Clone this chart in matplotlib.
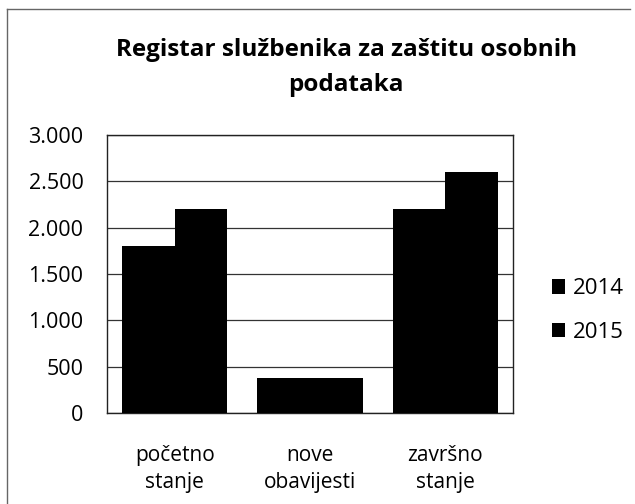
import matplotlib.pyplot as plt
import numpy as np
from matplotlib.lines import Line2D
from matplotlib.ticker import FuncFormatter

kategorije = ["početno\nstanje", "nove\nobavijesti", "završno\nstanje"]
god_2014 = [1800, 380, 2200]
god_2015 = [2200, 380, 2600]

plt.rcParams['font.family'] = ['Open Sans', 'DejaVu Sans']

fig = plt.figure(figsize=(6.35, 5.04), dpi=100)
ax = fig.add_axes([0.1685, 0.1806, 0.6394, 0.5516])

x = np.arange(len(kategorije))
w = 0.39
ax.bar(x - w / 2, god_2014, w, color="black", label="2014", zorder=3)
ax.bar(x + w / 2, god_2015, w, color="black", label="2015", zorder=3)

ax.set_xlim(-0.5, 2.5)
ax.set_ylim(0, 3000)
ax.set_yticks(np.arange(0, 3001, 500))
ax.yaxis.set_major_formatter(FuncFormatter(lambda v, p: f"{int(v):,}".replace(",", ".")))
ax.grid(axis="y", color="#333333", linewidth=0.9, zorder=0)
ax.set_xticks(x)
ax.set_xticklabels(kategorije, fontsize=15, linespacing=1.35)
ax.tick_params(axis="y", length=0, labelsize=15.5, pad=17)
ax.tick_params(axis="x", length=0, pad=23)
for s in ax.spines.values():
    s.set_color("#222222")
    s.set_linewidth(1)

fig.text(0.545, 0.866, "Registar službenika za zaštitu osobnih\npodataka", ha="center", va="center",
         fontsize=17.5, fontweight="bold", linespacing=1.65)

fig.legend(loc="center left", bbox_to_anchor=(0.838, 0.384), frameon=False, fontsize=16,
           handlelength=0.6, handleheight=0.6, handletextpad=0.35, labelspacing=1.0)

# okvir: samo gornja i lijeva linija
fig.add_artist(Line2D([0.011, 0.992], [0.982, 0.982], transform=fig.transFigure,
                      color="#666666", linewidth=1))
fig.add_artist(Line2D([0.011, 0.011], [0.0, 0.982], transform=fig.transFigure,
                      color="#666666", linewidth=1))

fig.savefig("out.png", dpi=100)
